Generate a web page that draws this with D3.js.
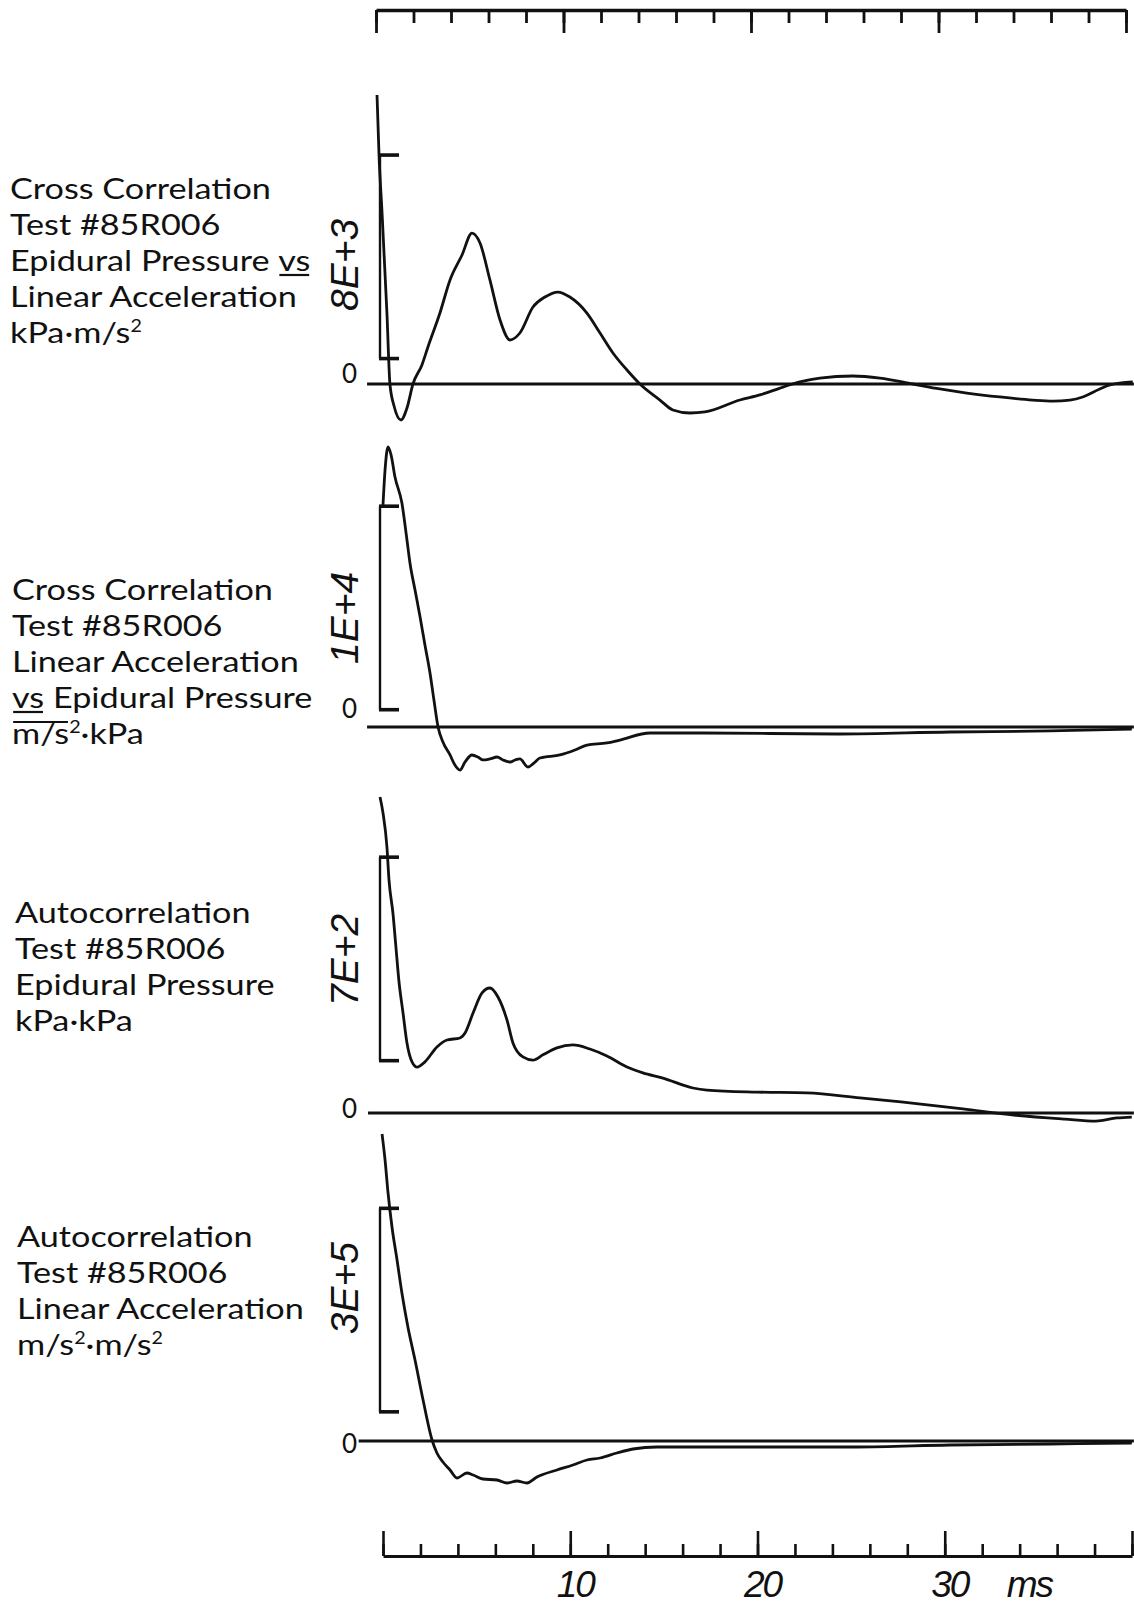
<!DOCTYPE html>
<html>
<head>
<meta charset="utf-8">
<script src="https://cdn.jsdelivr.net/npm/d3@7"></script>
<style>
  body { margin: 0; background: #fff; }
  svg { display: block; }
  .title { font-family: Lato, sans-serif; font-size: 29.5px; fill: #111; }
  .unit { font-family: "Liberation Sans", sans-serif; font-style: italic; font-size: 39px; fill: #111; }
  .zero { font-family: Lato, sans-serif; font-size: 26px; fill: #111; }
  .tick-lbl { font-family: "Liberation Sans", sans-serif; font-style: italic; font-size: 37px; fill: #111; letter-spacing: -2px; }
</style>
</head>
<body>
<svg id="chart" width="1134" height="1606"></svg>
<script>
// time axis (ms)
const minorTicks = d3.range(0, 41, 2);
const majorTicks = [0, 10, 20, 30, 40];
const tickLabels = [10, 20, 30];
const timeUnit = 'ms';

// panel text
const panelTitles = [
  ['Cross Correlation', 'Test #85R006', 'Epidural Pressure _vs_', 'Linear Acceleration', 'kPa·m/s^2'],
  ['Cross Correlation', 'Test #85R006', 'Linear Acceleration', '_vs_ Epidural Pressure', '~m/s~^2·kPa'],
  ['Autocorrelation', 'Test #85R006', 'Epidural Pressure', 'kPa·kPa'],
  ['Autocorrelation', 'Test #85R006', 'Linear Acceleration', 'm/s^2·m/s^2']
];
const scaleLabels = ['8E+3', '1E+4', '7E+2', '3E+5'];
const scaleUnits = [8e3, 1e4, 7e2, 3e5];
const scaleBarBase = [1000, 850, 180, 43000];

// series: [time ms, value]
const crossPressAcc = [
  [-0.32, 11360], [-0.21, 8960], [-0.05, 6720], [0.21, 2790], [0.37, 0], [0.59, -865],
  [0.96, -1415], [1.28, -945], [1.6, 0], [2.08, 750], [2.4, 1455], [3.04, 2790],
  [3.58, 4090], [4.22, 5070], [4.75, 5935], [5.18, 5545], [5.71, 4090], [6.25, 2515],
  [6.78, 1730], [7.31, 2005], [8.01, 3025], [8.65, 3420], [9.34, 3615], [9.98, 3420],
  [10.89, 2790], [11.59, 2005], [12.28, 1220], [13.03, 550], [13.72, 0], [14.79, -630],
  [15.48, -1020], [16.39, -1140], [17.19, -1100], [19.06, -630], [20.13, -430],
  [21.36, -120], [22.26, 80], [23.33, 235], [25.09, 315], [26.54, 235], [28.3, 0],
  [29.74, -195], [31.18, -355], [32.94, -510], [34.7, -630], [35.77, -670], [36.68, -630],
  [37.37, -510], [38.28, -195], [38.82, -40], [40.04, 80]
];
const crossAccPress = [
  [0, 10910], [0.11, 12630], [0.27, 13760], [0.43, 13370], [0.64, 12285], [1.01, 11005],
  [1.28, 9190], [1.44, 8060], [1.71, 6730], [1.98, 5405], [2.24, 4030], [2.51, 2655],
  [2.72, 1325], [2.94, 0], [3.2, -735], [3.58, -1375], [3.84, -1865], [4.11, -2115],
  [4.38, -1720], [4.75, -1375], [5.07, -1475], [5.34, -1620], [5.71, -1570], [6.09, -1475],
  [6.41, -1620], [6.78, -1720], [7.05, -1620], [7.31, -1570], [7.74, -1965], [8.06, -1770],
  [8.38, -1525], [9.45, -1375], [10.25, -1130], [10.89, -885], [11.96, -785], [12.65, -640],
  [14.26, -295], [16.92, -295], [24.4, -345], [30.27, -245], [35.61, -195], [39.99, -100]
];
const autoPress = [
  [-0.16, 1087], [0, 1032], [0.21, 915], [0.32, 802], [0.53, 688], [0.69, 571], [0.85, 454],
  [1.07, 344], [1.28, 241], [1.55, 176], [1.82, 158], [2.24, 176], [2.88, 227], [3.42, 251],
  [4.11, 258], [4.38, 275], [4.81, 344], [5.29, 413], [5.71, 430], [6.14, 399], [6.62, 320],
  [6.94, 241], [7.47, 193], [8.01, 182], [8.54, 200], [9.29, 224], [10.14, 234], [11.05, 220],
  [11.96, 196], [13.03, 158], [13.88, 138], [14.95, 120], [16.55, 86], [17.3, 79], [19.97, 72],
  [22.64, 69], [25.47, 52], [27.66, 38], [30.97, 14], [33.69, -7], [36.41, -21], [38.07, -28],
  [39.19, -17], [39.99, -14]
];
const autoAcc = [
  [-0.05, 452600], [0.11, 414250], [0.27, 365600], [0.48, 315480], [0.75, 266830],
  [1.01, 218180], [1.33, 168060], [1.71, 119410], [2.14, 60440], [2.62, 1470],
  [2.88, -17690], [3.2, -30960], [3.58, -42750], [3.95, -54545], [4.48, -47175],
  [4.81, -50125], [5.34, -56020], [6.09, -57495], [6.62, -61915], [7.15, -58970],
  [7.69, -61915], [8.22, -53070], [9.29, -42750], [10.14, -35380], [10.89, -28010],
  [11.59, -25060], [12.49, -17690], [13.35, -11795], [14.63, -8845], [17.3, -8845],
  [20.82, -8845], [25.31, -8845], [30.27, -5900], [35.61, -4425], [39.99, -2950]
];
const panelSeries = [crossPressAcc, crossAccPress, autoPress, autoAcc];

// layout
const W = 1134, H = 1606;
const zeroY = [384, 727, 1113, 1441];
const barPx = 203.5;
const titleX = [10, 12, 15, 17];
const titleY = [199, 600, 923, 1247];
const lineGap = 36;
const titleStretch = 1.16;
const zeroLblDy = [-1, -9, 5, 12];
const unitLblDy = [8, 10, 1, -22];
const zeroLineStart = [-0.85, -0.85, -0.8, -1.3];

const svg = d3.select('#chart');
const xs = d3.scaleLinear().domain([0, 40]).range([383, 1132]);
const xTop = xs.copy().range([376, 1126]);

// top time axis (ticks hang down)
const topAxis = svg.append('g').attr('transform', 'translate(0,10)');
topAxis.append('g').call(d3.axisBottom(xTop).tickValues(minorTicks).tickSize(13).tickSizeOuter(0).tickFormat(''));
topAxis.append('g').call(d3.axisBottom(xTop).tickValues(majorTicks).tickSize(23).tickSizeOuter(0).tickFormat(''))
  .select('.domain').remove();
topAxis.select('.domain').attr('stroke-width', 3.5);
topAxis.selectAll('.tick line').attr('stroke-width', 2.8);

// bottom time axis (ticks point up)
const botAxis = svg.append('g').attr('transform', 'translate(0,1556)');
botAxis.append('g').call(d3.axisTop(xs).tickValues(minorTicks).tickSize(12).tickSizeOuter(0).tickFormat(''));
botAxis.append('g').call(d3.axisTop(xs).tickValues(majorTicks).tickSize(25).tickSizeOuter(0).tickFormat(''))
  .select('.domain').remove();
botAxis.select('.domain').attr('stroke-width', 3.2);
botAxis.selectAll('.tick line').attr('stroke-width', 2.6);
svg.selectAll('.domain, .tick line').attr('stroke', '#111');

svg.selectAll('.tlbl').data(tickLabels).enter().append('text')
  .attr('class', 'tick-lbl').attr('text-anchor', 'middle')
  .attr('x', d => xs(d) + 5).attr('y', 1597).text(d => d);
svg.append('text').attr('class', 'tick-lbl').attr('x', xs(30) + 62).attr('y', 1597).text(timeUnit);

// title lines with simple markup: _u_ underline, ~o~ overline, ^2 superscript
function writeLine(lg, str) {
  const textEl = lg.append('text').attr('class', 'title');
  const parts = str.split(/(_[^_]+_|~[^~]+~|\^\d)/).filter(s => s.length);
  let raised = false;
  const decos = [];
  parts.forEach(p => {
    const t = textEl.append('tspan');
    let dy = raised ? 11 : 0;
    raised = false;
    if (p[0] === '^') {
      t.text(p.slice(1)).style('font-size', '17px');
      dy -= 11;
      raised = true;
    } else if (p[0] === '_' && p.length > 2) {
      t.text(p.slice(1, -1));
      decos.push([t, 4]);
    } else if (p[0] === '~' && p.length > 2) {
      t.text(p.slice(1, -1));
      decos.push([t, -22]);
    } else {
      t.text(p);
    }
    if (dy) t.attr('dy', dy);
  });
  decos.forEach(([t, off]) => {
    const b = t.node().getBBox();
    lg.append('line').attr('x1', b.x + 1).attr('x2', b.x + b.width - 1)
      .attr('y1', off).attr('y2', off)
      .attr('stroke', '#111').attr('stroke-width', 2.2);
  });
}

panelSeries.forEach((series, i) => {
  const g = svg.append('g');
  const ys = d3.scaleLinear().domain([0, scaleUnits[i]]).range([zeroY[i], zeroY[i] - barPx]);

  // zero line
  g.append('line')
    .attr('x1', xs(zeroLineStart[i])).attr('x2', xs(40.1))
    .attr('y1', ys(0)).attr('y2', ys(0))
    .attr('stroke', '#111').attr('stroke-width', 3.2);

  // data curve
  g.append('path').datum(series)
    .attr('fill', 'none').attr('stroke', '#111').attr('stroke-width', 2.8)
    .attr('stroke-linejoin', 'round')
    .attr('d', d3.line().x(d => xs(d[0])).y(d => ys(d[1])).curve(d3.curveMonotoneX));

  // scale bar
  const bx = xs(0) - 3;
  const y0 = ys(scaleBarBase[i]), y1 = ys(scaleBarBase[i] + scaleUnits[i]);
  g.append('line').attr('x1', bx).attr('x2', bx).attr('y1', y0).attr('y2', y1)
    .attr('stroke', '#111').attr('stroke-width', 2.4);
  [y0, y1].forEach(yy => g.append('line').attr('x1', bx - 1).attr('x2', bx + 19)
    .attr('y1', yy).attr('y2', yy).attr('stroke', '#111').attr('stroke-width', 3.6));

  // scale label (rotated)
  const cy = (y0 + y1) / 2 + unitLblDy[i];
  g.append('text').attr('class', 'unit').attr('text-anchor', 'middle')
    .attr('transform', `translate(358,${cy}) rotate(-90)`).text(scaleLabels[i]);

  // zero label
  g.append('text').attr('class', 'zero').attr('text-anchor', 'end')
    .attr('x', 357).attr('y', ys(0) + zeroLblDy[i]).text('0');

  // titles
  panelTitles[i].forEach((line, k) => {
    const lg = g.append('g')
      .attr('transform', `translate(${titleX[i]},${titleY[i] + k * lineGap}) scale(${titleStretch},1)`);
    writeLine(lg, line);
  });
});
</script>
</body>
</html>
